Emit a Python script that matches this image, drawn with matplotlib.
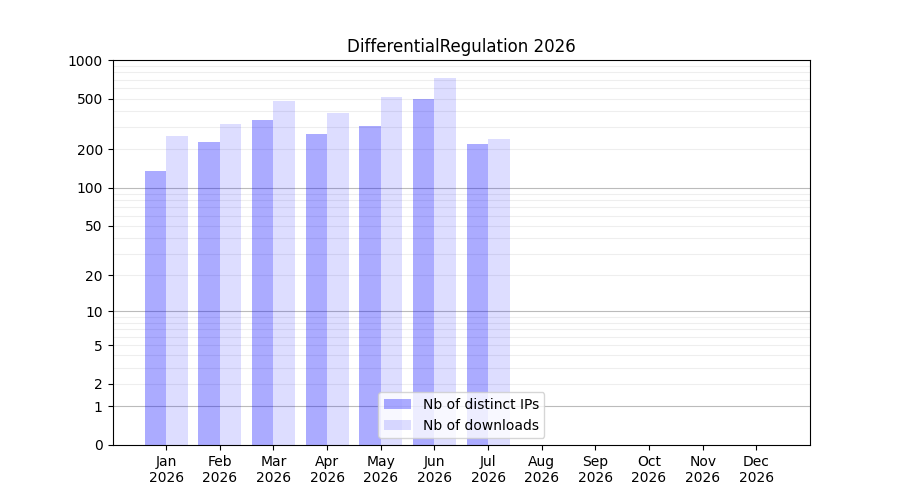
import matplotlib
matplotlib.use("Agg")
import matplotlib.pyplot as plt
import numpy as np

months = ["Jan", "Feb", "Mar", "Apr", "May", "Jun", "Jul", "Aug", "Sep", "Oct", "Nov", "Dec"]
year = "2026"
ips = [136, 230, 340, 265, 305, 497, 221]
downloads = [256, 317, 480, 386, 515, 725, 243]
ytick_vals = [0, 1, 2, 5, 10, 20, 50, 100, 200, 500, 1000]

fig, ax = plt.subplots(figsize=(9, 5), dpi=100)

def fwd(x):
    return np.log10(1 + np.clip(x, 0, None))

def inv(y):
    return 10 ** y - 1

ax.set_yscale("function", functions=(fwd, inv))
ax.set_ylim(0, 1000)
ax.set_xlim(-1, 12)

# grid lines
for d in [1, 10, 100]:
    ax.axhline(d, color="#bbbbbb", lw=0.8, zorder=0)
for d in [1, 10, 100]:
    for m in range(2, 10):
        ax.axhline(d * m, color="#eeeeee", lw=0.8, zorder=0)

x = np.arange(len(ips))
ax.bar(x, ips, width=-0.4, align="edge", color="blue", alpha=0.33, label="Nb of distinct IPs", zorder=2)
ax.bar(x, downloads, width=0.4, align="edge", color="blue", alpha=0.133, label="Nb of downloads", zorder=2)

ax.set_yticks(ytick_vals)
ax.set_yticklabels([str(v) for v in ytick_vals])
ax.yaxis.set_minor_locator(matplotlib.ticker.NullLocator())
ax.set_xticks(np.arange(len(months)))
ax.set_xticklabels([f"{m}\n{year}" for m in months])

ax.set_title("DifferentialRegulation 2026")
ax.legend(loc="lower center")

fig.savefig("out.png")
